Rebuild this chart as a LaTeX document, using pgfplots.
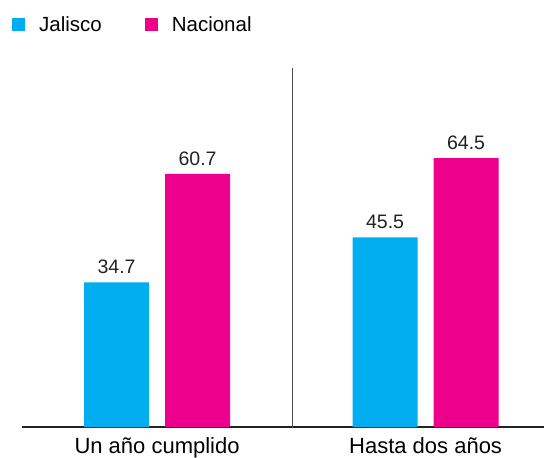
\documentclass[border=0pt]{standalone}
\usepackage{pgfplots}
\pgfplotsset{compat=1.18}
\usepackage{fontspec}
\setmainfont{Liberation Sans}
\definecolor{jal}{HTML}{00AEEF}
\definecolor{nac}{HTML}{EC008C}
\definecolor{ink}{HTML}{222222}
\begin{document}
\begin{tikzpicture}
\useasboundingbox (0,0) rectangle (544pt,-458pt);
\begin{axis}[
	at={(22pt,-427pt)}, anchor=south west,
	scale only axis,
	width=522pt, height=359pt,
	xmin=-0.503, xmax=1.441,
	ymin=0, ymax=86.1,
	ybar=16pt, bar width=65pt,
	axis x line*=bottom,
	axis y line=none,
	x axis line style={ink, line width=1.3pt, -},
	xtick={0,1},
	xticklabels={Un año cumplido, Hasta dos años},
	major tick length=0pt,
	xticklabel style={font=\fontsize{22}{24}\selectfont, yshift=-7pt},
	ytick=\empty,
	nodes near coords,
	nodes near coords style={font=\fontsize{19.5}{22}\selectfont, text=ink, yshift=5pt},
	/pgf/number format/.cd, fixed, fixed zerofill, precision=1, assume math mode=true,
	/pgfplots/.cd,
	legend columns=2,
	legend style={at={(-0.025,1.155)}, anchor=north west, draw=none, fill=none,
		font=\fontsize{20.5}{22}\selectfont, column sep=12pt,
		/tikz/every even column/.append style={column sep=41pt}},
	legend image code/.code={\fill[#1] (0pt,-6.5pt) rectangle (13pt,6.5pt);},
]
\addplot[fill=jal, draw=none] coordinates {(0,34.7) (1,45.5)};
\addplot[fill=nac, draw=none] coordinates {(0,60.7) (1,64.5)};
\legend{Jalisco, Nacional}
\draw[ink!80, line width=0.9pt] (axis cs:0.5047,86.1) -- ([yshift=-30pt]axis cs:0.5047,0);
\end{axis}
\end{tikzpicture}
\end{document}
